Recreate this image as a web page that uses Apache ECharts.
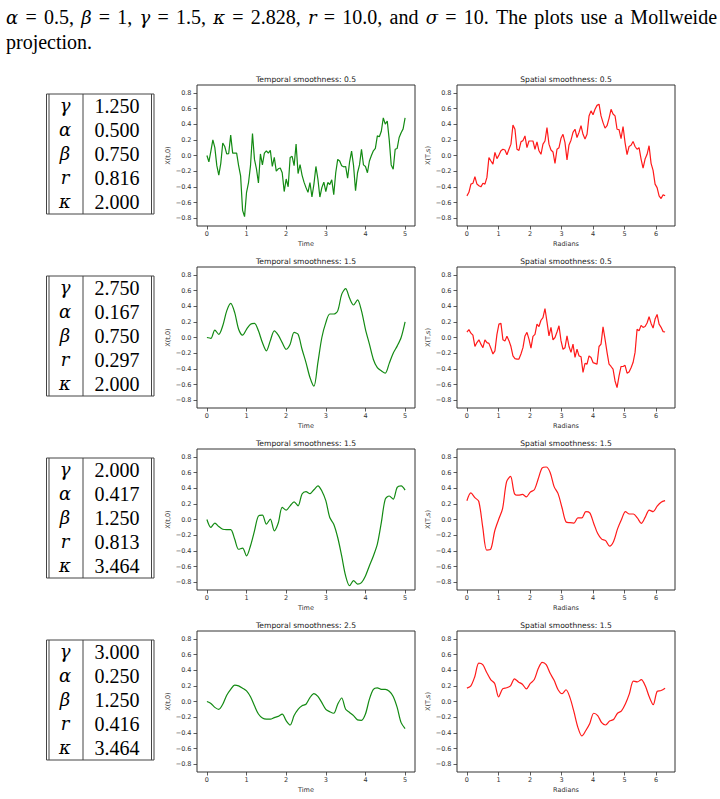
<!DOCTYPE html>
<html>
<head>
<meta charset="utf-8">
<script src="https://cdn.jsdelivr.net/npm/echarts@6/dist/echarts.min.js"></script>
<style>
  body { margin: 0; background: #fff; }
  #main { position: absolute; left: 0; top: 0; width: 720px; height: 799px; }
  #caption { position: absolute; left: 6px; top: 5px; width: 711px; z-index: 2;
    font: 20px 'Liberation Serif', 'DejaVu Serif', serif; line-height: 24px; color: #000; }
  #caption .l1 { text-align: justify; text-align-last: justify; }
  #caption i { font-style: italic; font-family: 'DejaVu Serif', serif; font-size: 18px; }
</style>
</head>
<body>
<div id="caption">
  <div class="l1"><i>α</i> = 0.5, <i>β</i> = 1, <i>γ</i> = 1.5, <i>κ</i> = 2.828, <i>r</i> = 10.0, and <i>σ</i> = 10. The plots use a Mollweide</div>
  <div>projection.</div>
</div>
<div id="main"></div>
<script>
// table rows
var symbols = ['γ', 'α', 'β', 'r', 'κ'];
var table1 = ['1.250', '0.500', '0.750', '0.816', '2.000'];
var table2 = ['2.750', '0.167', '0.750', '0.297', '2.000'];
var table3 = ['2.000', '0.417', '1.250', '0.813', '3.464'];
var table4 = ['3.000', '0.250', '1.250', '0.416', '3.464'];

// tick labels
var yTicks = [-0.8, -0.6, -0.4, -0.2, 0.0, 0.2, 0.4, 0.6, 0.8];
var timeTicks = [0, 1, 2, 3, 4, 5];
var radTicks = [0, 1, 2, 3, 4, 5, 6];

var titles = ['Temporal smoothness: 0.5', 'Spatial smoothness: 0.5',
              'Temporal smoothness: 1.5', 'Spatial smoothness: 0.5',
              'Temporal smoothness: 1.5', 'Spatial smoothness: 1.5',
              'Temporal smoothness: 2.5', 'Spatial smoothness: 1.5'];

// X(t,0), t from 0 to 5
var temporal1 = [0.0,-0.08,0.055,0.2,0.1,-0.13,-0.25,-0.1,0.16,0.115,
  0.02,0.025,0.26,0.03,0.03,0.03,-0.13,-0.26,-0.70,-0.78,
  -0.47,-0.345,-0.13,0.28,-0.05,-0.17,-0.35,0.02,-0.12,0.03,
  0.06,0.03,0.065,-0.14,-0.025,-0.2,-0.17,-0.16,-0.22,-0.46,
  -0.3,-0.4,-0.025,-0.01,-0.13,0.145,-0.23,-0.115,-0.25,-0.34,
  -0.41,-0.47,-0.345,-0.53,-0.365,-0.14,-0.3,-0.53,-0.41,-0.34,
  -0.46,-0.345,-0.37,-0.31,-0.50,-0.22,-0.05,-0.07,-0.13,-0.145,
  -0.14,-0.29,-0.08,0.055,-0.13,-0.45,-0.22,-0.12,0.08,-0.12,
  -0.14,-0.22,-0.07,0.0,0.06,0.09,0.25,0.24,0.31,0.48,
  0.4,0.44,0.2,-0.12,-0.175,0.08,0.09,0.23,0.29,0.34,0.48];
var temporal2 = [0.0,-0.01,0.095,0.04,0.15,0.34,0.435,0.32,0.105,0.03,
  0.105,0.17,0.18,0.085,-0.065,-0.17,-0.04,0.085,0.03,-0.065,
  -0.15,-0.085,0.065,0.04,-0.15,-0.32,-0.51,-0.62,-0.32,0.0,
  0.19,0.3,0.3,0.34,0.55,0.625,0.5,0.415,0.48,0.34,
  0.105,-0.085,-0.28,-0.385,-0.425,-0.455,-0.33,-0.2,-0.11,0.0,
  0.2];
var temporal3 = [0.0,-0.1,-0.045,-0.09,-0.125,-0.13,-0.13,-0.25,-0.38,-0.365,
  -0.465,-0.335,-0.145,0.045,0.055,-0.06,0.005,-0.145,-0.045,0.155,
  0.12,0.175,0.225,0.175,0.325,0.355,0.33,0.38,0.43,0.365,
  0.24,0.025,-0.06,-0.23,-0.465,-0.72,-0.845,-0.78,-0.825,-0.805,
  -0.72,-0.59,-0.465,-0.315,-0.04,0.26,0.3,0.26,0.41,0.43,
  0.375];
var temporal4 = [0.0,-0.025,-0.075,-0.1,-0.035,0.08,0.155,0.21,0.2,0.17,
  0.135,0.06,-0.055,-0.16,-0.21,-0.225,-0.225,-0.205,-0.19,-0.16,
  -0.245,-0.3,-0.18,-0.1,-0.055,-0.035,0.05,0.1,0.065,-0.015,
  -0.1,-0.13,-0.15,-0.035,0.045,-0.1,-0.14,-0.18,-0.235,-0.24,
  -0.16,0.03,0.155,0.175,0.155,0.155,0.13,0.065,-0.075,-0.27,
  -0.345];

// X(T,s), s from 0 to 2*pi
var spatial1 = [-0.515,-0.47,-0.365,-0.355,-0.27,-0.365,-0.385,-0.4,-0.355,-0.365,
  -0.28,-0.025,-0.07,-0.11,0.04,-0.04,0.005,0.06,0.08,0.07,
  0.01,0.08,0.145,0.39,0.335,0.08,0.065,0.175,0.19,0.25,
  0.1,0.185,0.185,0.185,0.08,0.175,0.06,0.015,0.145,0.185,
  0.355,0.145,0.07,0.045,-0.1,0.08,0.1,0.22,0.27,0.165,
  -0.055,0.135,0.195,0.295,0.335,0.23,0.295,0.38,0.27,0.21,
  0.27,0.505,0.57,0.52,0.59,0.64,0.655,0.505,0.42,0.35,
  0.38,0.475,0.59,0.53,0.505,0.335,0.33,0.215,0.37,0.165,
  0.01,0.115,0.13,0.18,0.115,0.08,0.1,-0.045,-0.16,-0.045,
  0.015,0.125,-0.1,-0.19,-0.365,-0.41,-0.515,-0.55,-0.5,-0.515];
var spatial2 = [0.07,0.1,0.055,0.03,-0.115,-0.065,-0.03,-0.085,-0.13,-0.03,
  -0.065,-0.075,-0.14,-0.21,-0.17,0.04,0.17,0.18,-0.03,-0.045,
  0.015,-0.04,-0.115,-0.235,-0.27,-0.275,-0.275,-0.21,-0.13,0.02,
  0.065,-0.02,-0.135,0.015,0.04,0.17,0.14,0.22,0.255,0.37,
  0.2,0.02,0.13,-0.03,0.0,0.07,0.15,-0.04,-0.15,-0.13,
  0.02,-0.115,-0.19,-0.085,-0.255,-0.15,-0.235,-0.245,-0.445,-0.33,
  -0.34,-0.235,-0.255,-0.32,-0.33,-0.34,-0.115,-0.085,0.135,-0.02,
  -0.19,-0.34,-0.37,-0.405,-0.555,-0.64,-0.49,-0.37,-0.37,-0.355,
  -0.455,-0.44,-0.385,-0.32,-0.19,0.105,0.085,0.155,0.13,0.14,
  0.185,0.265,0.18,0.12,0.235,0.295,0.17,0.13,0.075,0.07];
var spatial3 = [0.24,0.34,0.28,0.23,-0.1,-0.39,-0.38,-0.15,0.0,0.14,
  0.48,0.55,0.33,0.31,0.32,0.29,0.35,0.38,0.52,0.66,
  0.67,0.6,0.42,0.33,0.15,-0.03,-0.04,-0.045,0.02,0.02,
  0.1,0.085,-0.05,-0.18,-0.25,-0.27,-0.34,-0.28,-0.12,0.0,
  0.1,0.07,0.07,0.02,-0.05,0.03,0.12,0.1,0.17,0.22,
  0.24];
var spatial4 = [0.17,0.2,0.32,0.49,0.47,0.37,0.28,0.23,0.06,0.16,
  0.175,0.2,0.29,0.25,0.22,0.16,0.23,0.28,0.42,0.5,
  0.47,0.36,0.27,0.15,0.1,0.15,0.05,-0.13,-0.33,-0.44,
  -0.37,-0.28,-0.15,-0.18,-0.27,-0.3,-0.25,-0.23,-0.15,-0.12,
  -0.03,0.1,0.26,0.25,0.28,0.2,0.06,-0.04,0.13,0.14,
  0.17];

var tables = [table1, table2, table3, table4];
var panels = [
  { ys: temporal1, kind: 't' }, { ys: spatial1, kind: 's' },
  { ys: temporal2, kind: 't' }, { ys: spatial2, kind: 's' },
  { ys: temporal3, kind: 't' }, { ys: spatial3, kind: 's' },
  { ys: temporal4, kind: 't' }, { ys: spatial4, kind: 's' }
];

var FONT = 'DejaVu Sans';
var INK = '#333';
var grids = [], xAxes = [], yAxes = [], series = [], graphics = [];

function fmt(v) {
  return (v < 0 ? '\u2212' : '') + Math.abs(v).toFixed(1);
}

panels.forEach(function (p, i) {
  var row = Math.floor(i / 2), col = i % 2;
  var left = col ? 457 : 197;
  var top = 85 + row * 182;
  var tMax = p.kind === 't' ? 5 : 2 * Math.PI;
  var pad = tMax * 0.05;
  var n = p.ys.length;

  grids.push({ left: left, top: top, width: 218, height: 141,
    show: true, borderColor: INK, borderWidth: 1 });

  xAxes.push({
    gridIndex: i, type: 'value', min: -pad, max: tMax + pad,
    name: p.kind === 't' ? 'Time' : 'Radians',
    nameLocation: 'middle', nameGap: 14,
    nameTextStyle: { fontFamily: FONT, fontSize: 6.5, color: INK },
    axisLine: { show: false, onZero: false }, splitLine: { show: false },
    axisTick: { show: true, length: 3.5, customValues: p.kind === 't' ? timeTicks : radTicks,
      lineStyle: { color: INK, width: 0.8 } },
    axisLabel: { customValues: p.kind === 't' ? timeTicks : radTicks, margin: 4.5,
      fontFamily: FONT, fontSize: 6.5, color: INK, formatter: function (v) { return String(Math.round(v)); } }
  });

  yAxes.push({
    gridIndex: i, type: 'value', min: -0.9, max: 0.9,
    name: p.kind === 't' ? 'X(t,0)' : 'X(T,s)',
    nameLocation: 'middle', nameGap: 22, nameRotate: 90,
    nameTextStyle: { fontFamily: FONT, fontSize: 6.5, color: INK },
    axisLine: { show: false, onZero: false }, splitLine: { show: false },
    axisTick: { show: true, length: 3.5, customValues: yTicks, lineStyle: { color: INK, width: 0.8 } },
    axisLabel: { customValues: yTicks, margin: 5.5, fontFamily: FONT, fontSize: 6.5, color: INK, formatter: fmt }
  });

  series.push({
    type: 'line', xAxisIndex: i, yAxisIndex: i,
    data: p.ys.map(function (v, k) { return [tMax * k / (n - 1), v]; }),
    showSymbol: false, symbol: 'none', silent: true,
    smooth: n < 80 ? 0.3 : false,
    lineStyle: { width: 1.2, color: p.kind === 't' ? '#138a13' : '#ff1a1a' }
  });

  graphics.push({
    type: 'text', x: left + 109, y: top - 6,
    style: { text: titles[i], align: 'center', verticalAlign: 'middle',
      fontFamily: FONT, fontSize: 7.6, fill: '#222' }
  });
});

// parameter tables on the left
tables.forEach(function (vals, r) {
  var ty = 94 + r * 182;
  var lineStyle = { stroke: '#444', lineWidth: 1 };
  [46.5, 49, 83, 151.5, 154].forEach(function (x) {
    graphics.push({ type: 'line', shape: { x1: x, y1: ty, x2: x, y2: ty + 120 }, style: lineStyle });
  });
  [ty, ty + 120].forEach(function (y) {
    graphics.push({ type: 'line', shape: { x1: 46.5, y1: y, x2: 154, y2: y }, style: lineStyle });
  });
  vals.forEach(function (v, k) {
    var cy = ty + 11.5 + 24 * k;
    graphics.push({ type: 'text', x: 65, y: cy,
      style: { text: symbols[k], align: 'center', verticalAlign: 'middle',
        fontFamily: 'DejaVu Serif', fontStyle: 'italic', fontSize: 18, fill: '#000' } });
    graphics.push({ type: 'text', x: 117, y: cy,
      style: { text: v, align: 'center', verticalAlign: 'middle',
        fontFamily: 'Liberation Serif', fontSize: 20, fill: '#000' } });
  });
});

var chart = echarts.init(document.getElementById('main'), null, { renderer: 'svg' });
chart.setOption({
  backgroundColor: '#fff',
  animation: false,
  grid: grids,
  xAxis: xAxes,
  yAxis: yAxes,
  series: series,
  graphic: graphics
});
</script>
</body>
</html>
